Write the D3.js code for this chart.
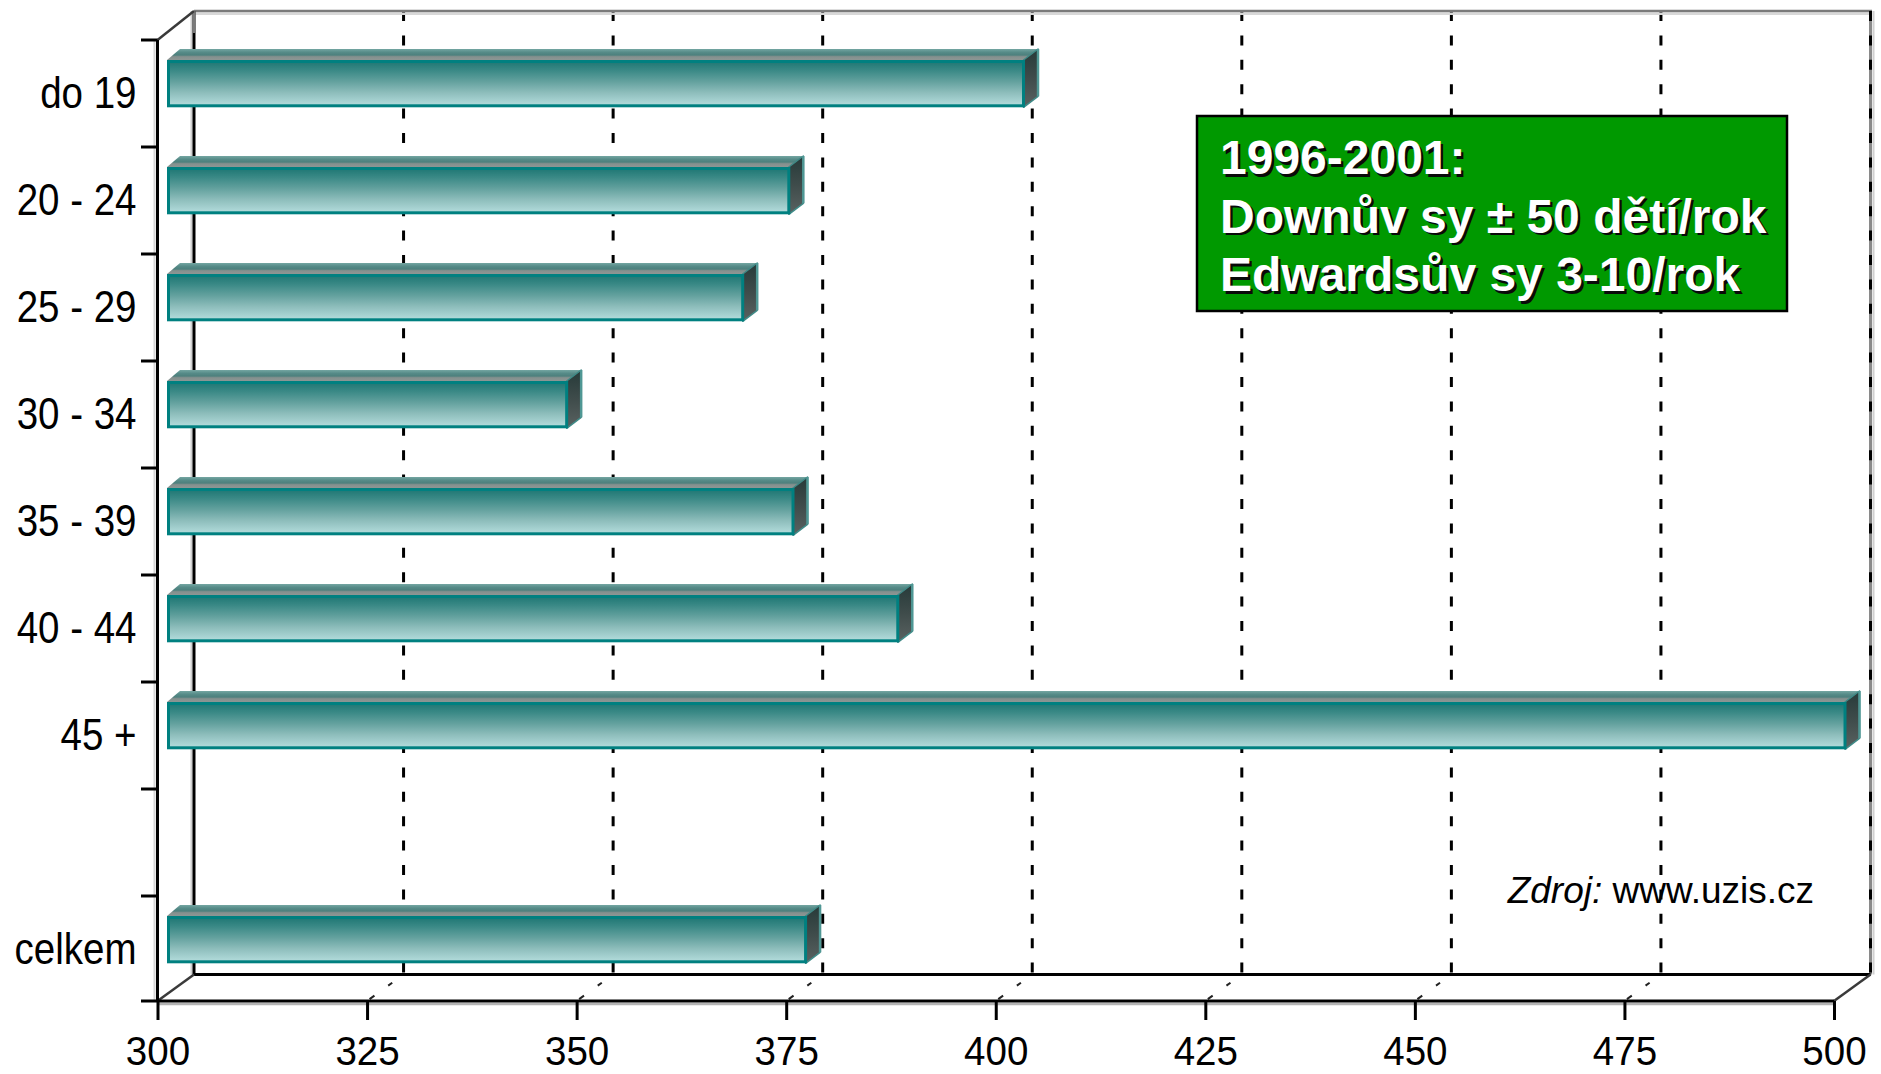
<!DOCTYPE html>
<html>
<head>
<meta charset="utf-8">
<script src="https://cdn.jsdelivr.net/npm/d3@7"></script>
<style>
  html, body { margin: 0; padding: 0; background: #ffffff; }
  svg { display: block; }
</style>
</head>
<body>
<svg id="chart" width="1881" height="1074"></svg>
<script>
// Age groups of the mother (plus the total row) and the value per group
const categories = ["do 19", "20 - 24", "25 - 29", "30 - 34", "35 - 39", "40 - 44", "45 +", "celkem"];
const values = [402, 374, 368.5, 347.5, 374.5, 387, 500, 376];
// Vertical slots on the category axis; the empty slot separates the total row
const slots = ["do 19", "20 - 24", "25 - 29", "30 - 34", "35 - 39", "40 - 44", "45 +", "", "celkem"];
const xTicks = [300, 325, 350, 375, 400, 425, 450, 475, 500];
const noteLines = ["1996-2001:", "Downův sy ± 50 dětí/rok", "Edwardsův sy 3-10/rok"];
const sourceLabel = "Zdroj:";
const sourceUrl = " www.uzis.cz";

const data = categories.map((c, i) => ({ cat: c, value: values[i] }));

const svg = d3.select("#chart");
const defs = svg.append("defs");

// Front plane of the 3D box and the depth offset of the back wall
const frontTop = 40, frontBottom = 1001;
const backTop = 11, backBottom = 974.5;
const depthX = 36.5;

const x = d3.scaleLinear().domain([300, 500]).range([157.5, 1834]);
const y = d3.scaleBand().domain(slots).range([40, 1003]).paddingInner(0).paddingOuter(0);

// Bar geometry in the depth of the box
const barFrontDX = 11, barLift = 9.85, barThick = 44.3;
const barDX = 13, barDY = -11;

// Gradients
const gFront = defs.append("linearGradient").attr("id", "barFront")
  .attr("x1", 0).attr("y1", 0).attr("x2", 0).attr("y2", 1);
[[0, "#1f7774"], [0.2, "#3a8986"], [0.45, "#63a19e"], [0.7, "#8dbdbb"], [1, "#b4dddd"]]
  .forEach(([o, c]) => gFront.append("stop").attr("offset", o).attr("stop-color", c));

const gTop = defs.append("linearGradient").attr("id", "barTop")
  .attr("x1", 0).attr("y1", 0).attr("x2", 0).attr("y2", 1);
[[0, "#74a6a2"], [0.3, "#568b88"], [0.55, "#4d807d"], [0.7, "#84908e"], [1, "#8c9694"]]
  .forEach(([o, c]) => gTop.append("stop").attr("offset", o).attr("stop-color", c));

const gSide = defs.append("linearGradient").attr("id", "barSide")
  .attr("x1", 0).attr("y1", 0).attr("x2", 0).attr("y2", 1);
[[0, "#263a39"], [0.5, "#3f4c4b"], [1, "#5a6261"]]
  .forEach(([o, c]) => gSide.append("stop").attr("offset", o).attr("stop-color", c));

// ---- Back wall and floor ----
const wall = svg.append("g");
const xBack = v => x(v) + depthX;

// dashed gridlines on the back wall
wall.selectAll("line.grid")
  .data(xTicks.filter(v => v > 300 && v < 500))
  .join("line")
  .attr("x1", v => xBack(v)).attr("x2", v => xBack(v))
  .attr("y1", backTop).attr("y2", backBottom + 5)
  .attr("stroke", "#000").attr("stroke-width", 3)
  .attr("stroke-dasharray", "10,14.4");

// dashed gridlines across the floor
wall.selectAll("line.floor")
  .data(xTicks.filter(v => v > 300 && v < 500))
  .join("line")
  .attr("x1", v => xBack(v)).attr("y1", backBottom)
  .attr("x2", v => x(v)).attr("y2", frontBottom)
  .attr("stroke", "#222").attr("stroke-width", 2)
  .attr("stroke-dasharray", "0,14,5,17,6,40");

// top edge of the back wall
wall.append("line").attr("x1", xBack(300)).attr("x2", xBack(500) + 1.5)
  .attr("y1", backTop + 2.8).attr("y2", backTop + 2.8)
  .attr("stroke", "#d8d8d8").attr("stroke-width", 2.5);
wall.append("line").attr("x1", xBack(300)).attr("x2", xBack(500) + 1.5)
  .attr("y1", backTop).attr("y2", backTop)
  .attr("stroke", "#7a7a7a").attr("stroke-width", 2.5);

// left edge of the back wall
wall.append("line").attr("x1", xBack(300) - 2.5).attr("x2", xBack(300) - 2.5)
  .attr("y1", backTop).attr("y2", backBottom)
  .attr("stroke", "#d0d0d0").attr("stroke-width", 2);
wall.append("line").attr("x1", xBack(300)).attr("x2", xBack(300))
  .attr("y1", backTop).attr("y2", backBottom)
  .attr("stroke", "#000").attr("stroke-width", 3);
wall.append("line").attr("x1", xBack(300)).attr("x2", xBack(300))
  .attr("y1", backTop).attr("y2", backTop + 22)
  .attr("stroke", "#7a7a7a").attr("stroke-width", 3);

// right edge of the back wall
wall.append("line").attr("x1", xBack(500) + 3).attr("x2", xBack(500) + 3)
  .attr("y1", backTop).attr("y2", backBottom)
  .attr("stroke", "#d0d0d0").attr("stroke-width", 2);
wall.append("line").attr("x1", xBack(500)).attr("x2", xBack(500))
  .attr("y1", backTop).attr("y2", backBottom)
  .attr("stroke", "#8a8a8a").attr("stroke-width", 3);
wall.append("line").attr("x1", xBack(500)).attr("x2", xBack(500))
  .attr("y1", backTop).attr("y2", backBottom)
  .attr("stroke", "#000").attr("stroke-width", 3)
  .attr("stroke-dasharray", "10,14.4");

// bottom edge of the back wall
wall.append("line").attr("x1", xBack(300)).attr("x2", xBack(500))
  .attr("y1", backBottom).attr("y2", backBottom)
  .attr("stroke", "#000").attr("stroke-width", 3);

// depth edges of the box
const diag = [
  [x(300), frontTop, xBack(300), backTop],
  [x(300), frontBottom, xBack(300), backBottom],
  [x(500), frontBottom, xBack(500), backBottom]
];
wall.selectAll("line.diag").data(diag).join("line")
  .attr("x1", d => d[0]).attr("y1", d => d[1])
  .attr("x2", d => d[2]).attr("y2", d => d[3])
  .attr("stroke", "#3a3a3a").attr("stroke-width", 2.5);

// ---- Bars ----
const bars = svg.append("g").selectAll("g.bar").data(data).join("g");

bars.each(function (d) {
  const g = d3.select(this);
  const x0 = x(300) + barFrontDX;
  const x1 = x(d.value) + barFrontDX;
  const y0 = y(d.cat) + y.bandwidth() / 2 - barThick / 2 - barLift;
  const y1 = y0 + barThick;

  // top face
  g.append("polygon")
    .attr("points", [[x0 - 1.5, y0 - 1.5], [x0 - 1.5 + barDX, y0 - 1.5 + barDY],
      [x1 + 1.5 + barDX, y0 - 1.5 + barDY], [x1 + 1.5, y0 - 1.5]].join(" "))
    .attr("fill", "url(#barTop)");

  // end face
  g.append("polygon")
    .attr("points", [[x1, y0 - 1.5], [x1 + 1.5 + barDX, y0 - 1.5 + barDY],
      [x1 + 1.5 + barDX, y1 + 1.5 + barDY], [x1, y1 + 1.5]].join(" "))
    .attr("fill", "url(#barSide)")
    .attr("stroke", "#3f8a87").attr("stroke-width", 1.5)
    .attr("stroke-linejoin", "round");
  g.append("line")
    .attr("x1", x1 + 1.5 + barDX).attr("x2", x1 + 1.5 + barDX)
    .attr("y1", y0 - 1.5 + barDY).attr("y2", y1 + 1.5 + barDY)
    .attr("stroke", "#4f9794").attr("stroke-width", 2.5);

  // front face
  g.append("rect")
    .attr("x", x0).attr("y", y0)
    .attr("width", x1 - x0).attr("height", barThick)
    .attr("fill", "url(#barFront)")
    .attr("stroke", "#008080").attr("stroke-width", 3);
});

// ---- Front axes ----
const axes = svg.append("g");

// shadows of the axis lines
axes.append("line").attr("x1", x(300) - 3).attr("x2", x(300) - 3)
  .attr("y1", frontTop).attr("y2", frontBottom)
  .attr("stroke", "#d6d6d6").attr("stroke-width", 2);
axes.append("line").attr("x1", x(300)).attr("x2", x(500))
  .attr("y1", frontBottom + 3).attr("y2", frontBottom + 3)
  .attr("stroke", "#b4b4b4").attr("stroke-width", 2.5);

axes.append("line").attr("x1", x(300)).attr("x2", x(300))
  .attr("y1", frontTop).attr("y2", frontBottom)
  .attr("stroke", "#000").attr("stroke-width", 3);
axes.append("line").attr("x1", x(300) - 16.5).attr("x2", x(500))
  .attr("y1", frontBottom).attr("y2", frontBottom)
  .attr("stroke", "#000").attr("stroke-width", 3);

// category boundaries on the left axis
axes.selectAll("line.ytick")
  .data(slots.map((s, i) => y.range()[0] + i * y.step()))
  .join("line")
  .attr("x1", x(300) - 16.5).attr("x2", x(300))
  .attr("y1", d => d).attr("y2", d => d)
  .attr("stroke", "#000").attr("stroke-width", 3);

const labelFont = "'Liberation Sans', Arial, sans-serif";

// value axis
const xAxis = axes.append("g")
  .attr("transform", `translate(0,${frontBottom})`)
  .call(d3.axisBottom(x).tickValues(xTicks).tickSize(19).tickPadding(15.5).tickFormat(d3.format("d")));
xAxis.select(".domain").remove();
xAxis.selectAll(".tick line").attr("stroke", "#000").attr("stroke-width", 3);
xAxis.selectAll(".tick text")
  .attr("fill", "#000")
  .attr("dy", "0.716em")
  .style("font-family", labelFont).style("font-size", "41px")
  .attr("transform", "scale(0.94,1)");

// category axis labels
const yAxis = axes.append("g")
  .attr("transform", `translate(${x(300)},0)`)
  .call(d3.axisLeft(y).tickSize(0).tickPadding(21));
yAxis.select(".domain").remove();
yAxis.selectAll(".tick text")
  .attr("fill", "#000")
  .attr("x", 0)
  .attr("transform", "translate(-21,0) scale(0.875,1)")
  .style("font-family", labelFont).style("font-size", "44px");

// ---- Note box ----
const note = svg.append("g");
note.append("rect")
  .attr("x", 1197).attr("y", 116).attr("width", 590).attr("height", 195)
  .attr("fill", "#009900").attr("stroke", "#000").attr("stroke-width", 2.5);
const noteText = (dx, dy, fill) => note.selectAll(null).data(noteLines).join("text")
  .attr("x", 1220 + dx).attr("y", (d, i) => 174 + i * 58.5 + dy)
  .attr("fill", fill)
  .style("font-family", "'Liberation Sans', Arial, sans-serif")
  .style("font-weight", "bold").style("font-size", "48px")
  .text(d => d);
noteText(2.5, 2.5, "#0a0a0a");
noteText(0, 0, "#ffffff");

// ---- Source ----
const src = svg.append("text")
  .attr("x", 1814).attr("y", 903)
  .attr("text-anchor", "end")
  .attr("fill", "#000")
  .style("font-family", labelFont).style("font-size", "37px");
src.append("tspan").style("font-style", "italic").text(sourceLabel);
src.append("tspan").text(sourceUrl);
</script>
</body>
</html>
